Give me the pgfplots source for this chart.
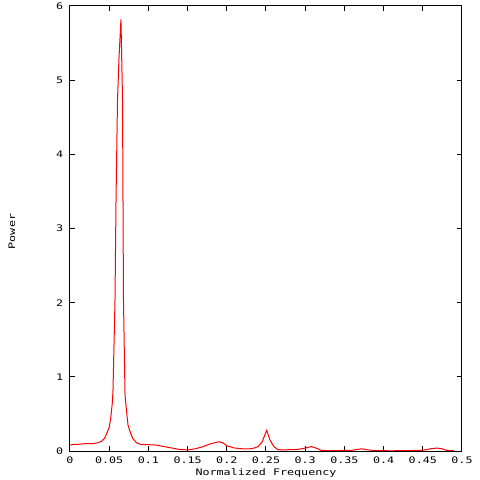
\documentclass[border=0pt]{standalone}
\usepackage{pgfplots}
\pgfplotsset{compat=1.18}
\usepackage{fontspec}
\usetikzlibrary{calc}
\newfontfamily\gp[FakeStretch=1.3]{DejaVu Sans Mono}
\newcommand{\gpf}{\gp\fontsize{9bp}{10bp}\selectfont}
\begin{document}
\begin{tikzpicture}
\begin{axis}[name=ax,
  width=392bp, height=445bp, scale only axis,
  xmin=0, xmax=0.5, ymin=0, ymax=6,
  xtick={0,0.05,0.1,0.15,0.2,0.25,0.3,0.35,0.4,0.45,0.5},
  xticklabels={0,0.05,0.1,0.15,0.2,0.25,0.3,0.35,0.4,0.45,0.5},
  ytick={0,1,2,3,4,5,6},
  yticklabels={0,1,2,3,4,5,6},
  tick align=inside, major tick length=5bp,
  tick style={black, line width=1bp},
  axis line style={black, line width=1bp},
  every axis/.append style={line width=1bp},
  ticklabel style={font=\gpf},
  xticklabel style={yshift=-2bp},
  yticklabel style={xshift=-3bp},
  xlabel={Normalized Frequency}, ylabel={Power},
  label style={font=\gpf},
  xlabel style={at={(axis description cs:0.5,0)}, anchor=center, yshift=-22.5bp},
  ylabel style={at={(axis description cs:0,0.5)}, anchor=center, yshift=58bp, xshift=-3bp},
]
\addplot[red, line width=1bp] coordinates {
(0.000,0.08) (0.005,0.09) (0.010,0.09) (0.020,0.10) (0.030,0.10) (0.035,0.11)
(0.040,0.13) (0.044,0.17) (0.047,0.24) (0.050,0.32) (0.052,0.45) (0.054,0.65)
(0.0548,0.80) (0.0565,1.6) (0.0574,2.04) (0.0587,3.38) (0.0606,4.73) (0.0625,5.3)
(0.0650,5.82) (0.0670,4.73) (0.0676,3.38) (0.0682,2.04) (0.0702,0.75) (0.0714,0.62)
(0.0725,0.50) (0.074,0.35) (0.077,0.25) (0.080,0.17) (0.085,0.11) (0.090,0.09)
(0.100,0.085) (0.110,0.08) (0.120,0.06) (0.130,0.04) (0.140,0.02) (0.150,0.015)
(0.160,0.03) (0.170,0.06) (0.180,0.10) (0.190,0.125) (0.195,0.11) (0.200,0.07)
(0.210,0.04) (0.220,0.03) (0.230,0.03) (0.235,0.04) (0.240,0.06) (0.245,0.12)
(0.2509,0.28) (0.255,0.15) (0.260,0.06) (0.265,0.02) (0.270,0.015) (0.290,0.02)
(0.300,0.04) (0.308,0.06) (0.315,0.035) (0.320,0.01) (0.330,0.003) (0.360,0.01)
(0.372,0.03) (0.380,0.015) (0.390,0.005) (0.410,0.003) (0.430,0.005) (0.450,0.01)
(0.460,0.03) (0.468,0.04) (0.475,0.03) (0.480,0.01) (0.490,0.005)
};
\end{axis}
\pgfresetboundingbox
\path ($(ax.south west)+(-70bp,-29bp)$) rectangle ($(ax.north east)+(18bp,6bp)$);
\end{tikzpicture}
\end{document}
